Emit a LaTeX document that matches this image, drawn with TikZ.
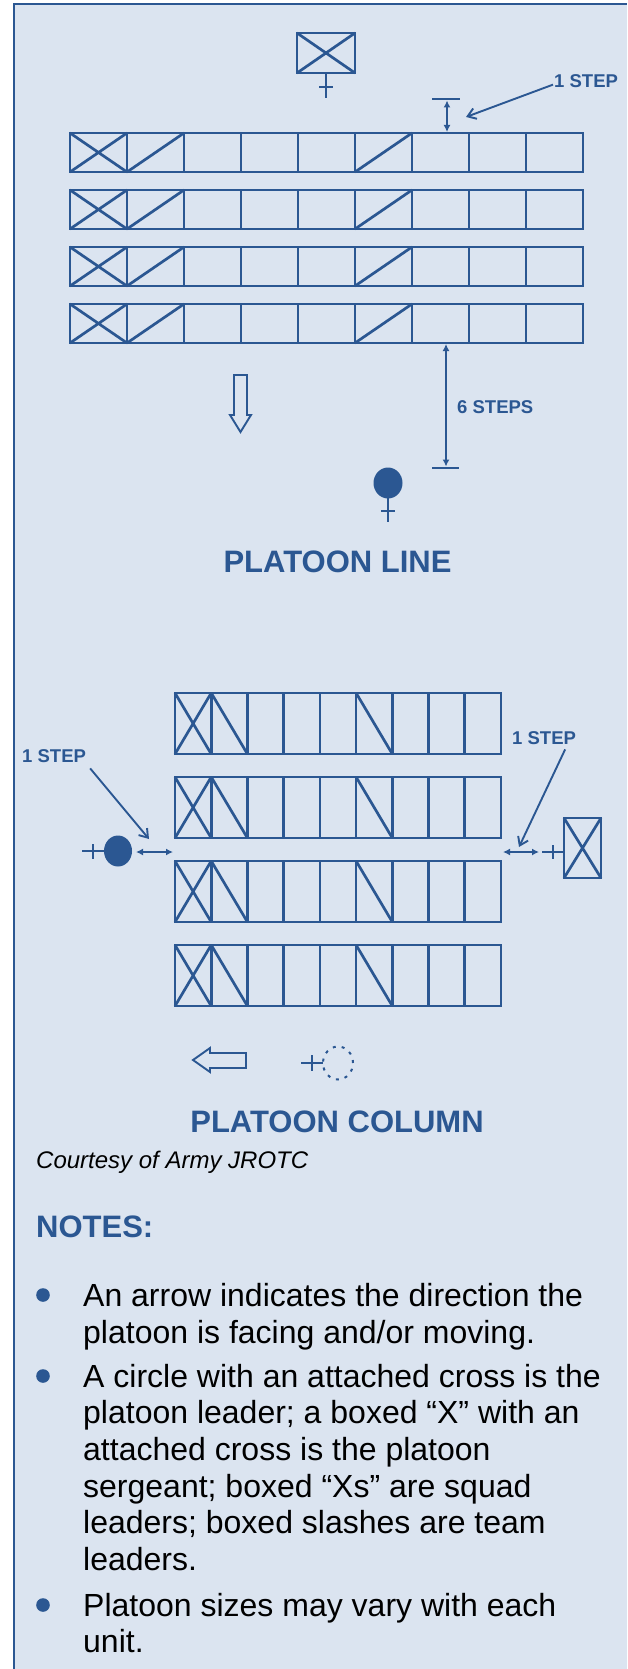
\documentclass[tikz,border=0pt]{standalone}
\usepackage{fontspec}
\setmainfont{Liberation Sans}
\usetikzlibrary{arrows.meta}
\definecolor{navy}{HTML}{2B5792}
\definecolor{paper}{HTML}{DBE4F0}
\begin{document}
\begin{tikzpicture}[x=1pt,y=-1pt,
  boxline/.style={draw=navy,line width=2.7pt},
  thinline/.style={draw=navy,line width=2.2pt},
  dimline/.style={draw=navy,line width=1.8pt,{Latex[length=7pt,width=7pt]}-{Latex[length=7pt,width=7pt]}},
  pointer/.style={draw=navy,line width=1.9pt,-{Straight Barb[length=8pt,width=11pt]}},
  lbl/.style={text=navy,font=\fontsize{18.5}{20}\selectfont\bfseries,inner sep=0pt,anchor=base west},
  title/.style={text=navy,font=\fontsize{31}{36}\selectfont\bfseries,inner sep=0pt,anchor=base},
  body/.style={text=black,font=\fontsize{32}{37}\selectfont,inner sep=0pt,anchor=base west},
  bulletdot/.style={fill=navy},
]
\useasboundingbox (0,0) rectangle (627,1669);
\fill[white] (0,0) rectangle (627,1669);
\fill[paper] (14,4) rectangle (627,1669);
\draw[navy,line width=2.2pt] (14,1669) -- (14,4) -- (627,4);

% ---------- PLATOON LINE ----------
% platoon sergeant
\draw[boxline] (297,33) rectangle (355,73);
\draw[boxline] (297,33) -- (355,73) (297,73) -- (355,33);
\draw[thinline] (326,73) -- (326,98) (319,87) -- (333,87);

% rows
\foreach \t in {133,190,247,304} {
  \foreach \c in {0,...,8} \draw[boxline] (70+57*\c,\t) rectangle ++(57,39);
  \draw[boxline] (70,\t) -- (127,\t+39) (70,\t+39) -- (127,\t);
  \draw[boxline] (127,\t+39) -- (184,\t);
  \draw[boxline] (355,\t+39) -- (412,\t);
}

% 1 step dimension
\draw[navy,line width=2.6pt] (432,99) -- (460,99);
\draw[dimline] (447,100.5) -- (447,132);
\node[lbl] (stepA) at (554,88) {1 STEP};
\coordinate (stepAtip) at (466,117);
\draw[pointer] ([xshift=-1pt,yshift=-3pt]stepA.west) -- (stepAtip);

% facing arrow
\draw[navy,line width=1.9pt,fill=paper] (234,375) -- (247,375) -- (247,415) -- (251,415) -- (240.5,432) -- (230,415) -- (234,415) -- cycle;

% 6 steps
\draw[dimline] (446,344) -- (446,466.5);
\draw[navy,line width=2.6pt] (432,468) -- (459,468);
\node[lbl] (sixsteps) at (457,413) {6 STEPS};

% platoon leader
\fill[navy] (388,483) ellipse [x radius=14.5pt, y radius=15.5pt];
\draw[thinline] (388,497) -- (388,522) (381,511) -- (395,511);

\node[title] (tline) at (337.5,572) {PLATOON LINE};

% ---------- PLATOON COLUMN ----------
\foreach \t in {693,777,861,945} {
  \foreach \c in {0,...,8} \draw[boxline] (175+36.22*\c,\t) rectangle ++(36.22,61);
  \draw[boxline] (175,\t) -- (211.22,\t+61) (175,\t+61) -- (211.22,\t);
  \draw[boxline] (211.22,\t) -- (247.44,\t+61);
  \draw[boxline] (356.1,\t) -- (392.32,\t+61);
}

% left: platoon leader
\node[lbl] (stepB) at (22,762) {1 STEP};
\coordinate (stepBtip) at (149,839);
\draw[pointer] ([xshift=4pt,yshift=-6pt]stepB.south east) -- (stepBtip);
\fill[navy] (118,851) ellipse [x radius=14pt, y radius=15.5pt];
\draw[thinline] (82,851) -- (104,851) (93,844) -- (93,859);
\draw[dimline] (136,852) -- (173,852);

% right: platoon sergeant
\node[lbl] (stepC) at (512,744) {1 STEP};
\coordinate (stepCtip) at (519,847);
\draw[pointer] ([xshift=-11pt,yshift=-5pt]stepC.south east) -- (stepCtip);
\draw[dimline] (503,852) -- (539,852);
\draw[thinline] (542,852) -- (564,852) (553,845) -- (553,859);
\draw[boxline] (564,818) rectangle (601,878);
\draw[boxline] (564,818) -- (601,878) (564,878) -- (601,818);

% facing arrow
\draw[navy,line width=1.9pt,fill=paper] (246,1053) -- (210,1053) -- (210,1048) -- (193,1060) -- (210,1072) -- (210,1068) -- (246,1068) -- cycle;

% dotted circle with cross
\draw[navy,line width=2pt,dash pattern=on 3pt off 6pt] (338,1063) ellipse [x radius=15pt, y radius=16.5pt];
\draw[thinline] (301,1063) -- (323,1063) (312,1055) -- (312,1071);

\node[title] (tcol) at (337,1132) {PLATOON COLUMN};

\node[text=black,font=\fontsize{24}{28}\selectfont\itshape,inner sep=0pt,anchor=base west] (credit) at (36,1168) {Courtesy of Army JROTC};

% ---------- NOTES ----------
\node[title,anchor=base west] (notes) at (36,1237) {NOTES:};

\fill[bulletdot] (43,1295) circle[radius=6.8pt];
\fill[bulletdot] (43,1376) circle[radius=6.8pt];
\fill[bulletdot] (43,1605) circle[radius=6.8pt];

\node[body] (n1a) at (83,1306) {An arrow indicates the direction the};
\node[body] (n1b) at (83,1343) {platoon is facing and/or moving.};
\node[body] (n2a) at (83,1387) {A circle with an attached cross is the};
\node[body] (n2b) at (83,1423.5) {platoon leader; a boxed “X” with an};
\node[body] (n2c) at (83,1460) {attached cross is the platoon};
\node[body] (n2d) at (83,1497) {sergeant; boxed “Xs” are squad};
\node[body] (n2e) at (83,1533.5) {leaders; boxed slashes are team};
\node[body] (n2f) at (83,1570.5) {leaders.};
\node[body] (n3a) at (83,1616) {Platoon sizes may vary with each};
\node[body] (n3b) at (83,1652) {unit.};
\end{tikzpicture}
\end{document}
